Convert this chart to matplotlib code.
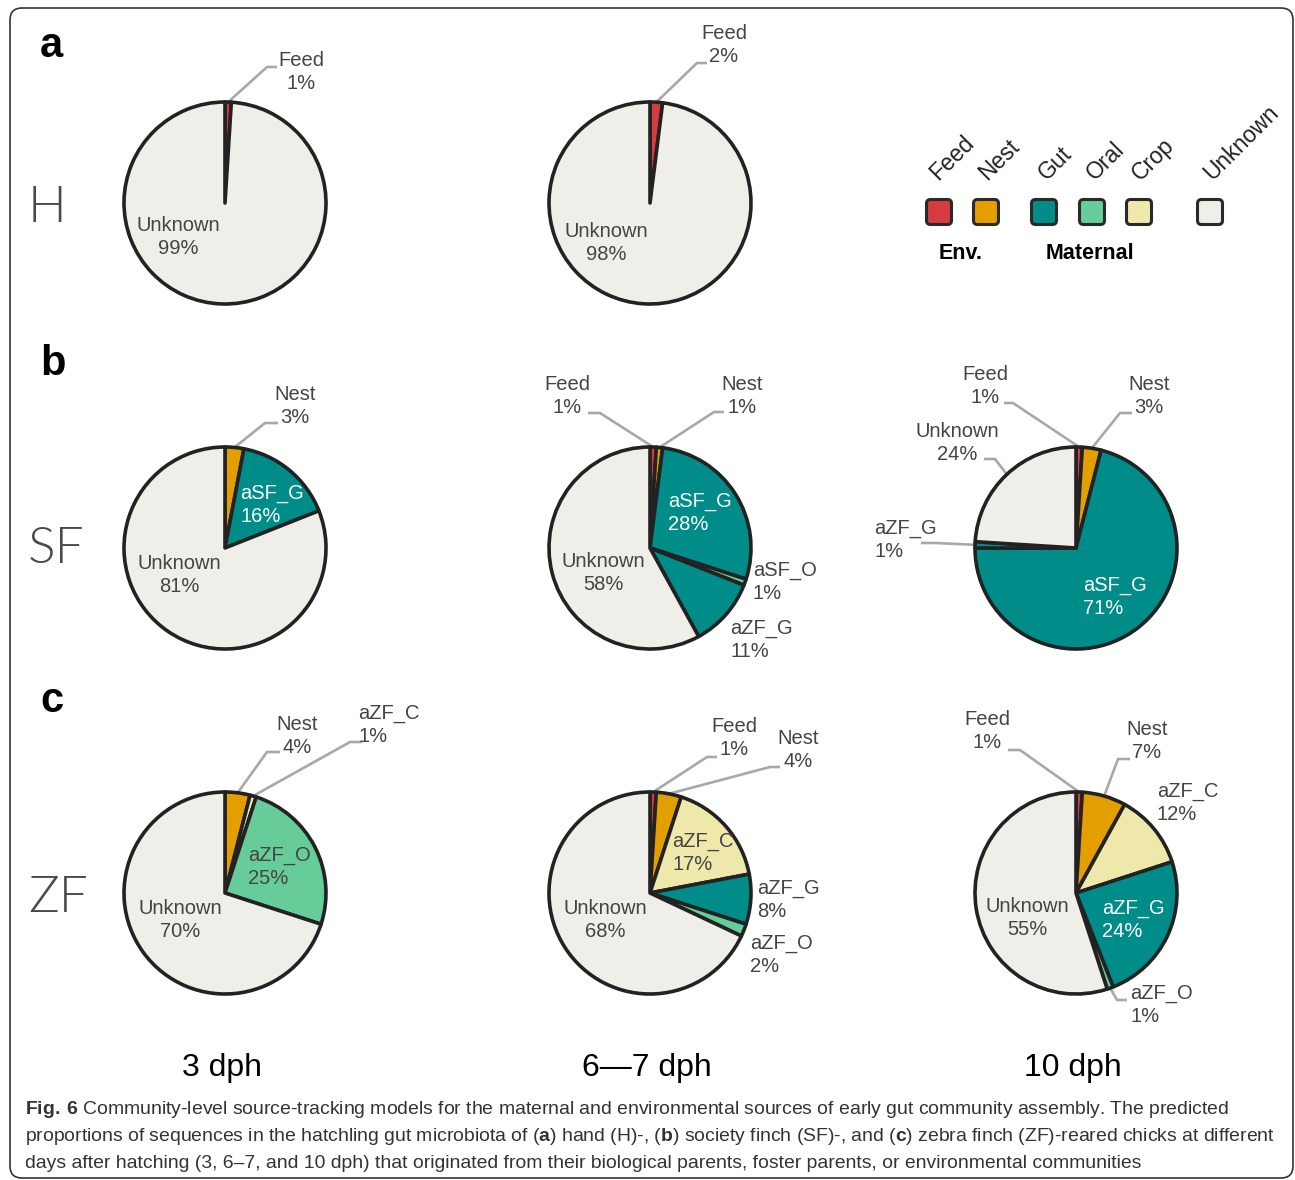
import math
import matplotlib
matplotlib.use('Agg')
import matplotlib.pyplot as plt
from matplotlib.patches import FancyBboxPatch
from matplotlib import font_manager

W, H = 1295, 1180

# colours of the source categories
src_colors = {
    'Feed': '#d63b3f',
    'Nest': '#e39e00',
    'Gut': '#008c88',
    'Oral': '#66cc99',
    'Crop': '#eee8aa',
    'Unknown': '#f0eee8',
}

# ---- data: proportions (%) per source, clockwise from 12 o'clock ----
# a: hand-reared (H)
h3_labels = ['Feed', 'Unknown']
h3_values = [1, 99]
h67_labels = ['Feed', 'Unknown']
h67_values = [2, 98]
# b: society finch reared (SF)
sf3_labels = ['Nest', 'aSF_G', 'Unknown']
sf3_values = [3, 16, 81]
sf67_labels = ['Feed', 'Nest', 'aSF_G', 'aSF_O', 'aZF_G', 'Unknown']
sf67_values = [1, 1, 28, 1, 11, 58]
sf10_labels = ['Feed', 'Nest', 'aSF_G', 'aZF_G', 'Unknown']
sf10_values = [1, 3, 71, 1, 24]
# c: zebra finch reared (ZF)
zf3_labels = ['Nest', 'aZF_C', 'aZF_O', 'Unknown']
zf3_values = [4, 1, 25, 70]
zf67_labels = ['Feed', 'Nest', 'aZF_C', 'aZF_G', 'aZF_O', 'Unknown']
zf67_values = [1, 4, 17, 8, 2, 68]
zf10_labels = ['Feed', 'Nest', 'aZF_C', 'aZF_G', 'aZF_O', 'Unknown']
zf10_values = [1, 7, 12, 24, 1, 55]

groups = ['H', 'SF', 'ZF']
panel_letters = ['a', 'b', 'c']
ages = ['3 dph', '6\u20147 dph', '10 dph']
legend_names = ['Feed', 'Nest', 'Gut', 'Oral', 'Crop', 'Unknown']

caption = [
    r'$\mathbf{Fig.\,6}$ Community-level source-tracking models for the maternal and environmental sources of early gut community assembly. The predicted',
    r'proportions of sequences in the hatchling gut microbiota of ($\mathbf{a}$) hand (H)-, ($\mathbf{b}$) society finch (SF)-, and ($\mathbf{c}$) zebra finch (ZF)-reared chicks at different',
    'days after hatching (3, 6\u20137, and 10 dph) that originated from their biological parents, foster parents, or environmental communities',
]

# ---- layout (pixels, origin top-left) ----
col_x = [225, 650, 1076]
row_y = [203, 548, 893]
R = 101

pies = [
    (0, 0, h3_labels, h3_values),
    (0, 1, h67_labels, h67_values),
    (1, 0, sf3_labels, sf3_values),
    (1, 1, sf67_labels, sf67_values),
    (1, 2, sf10_labels, sf10_values),
    (2, 0, zf3_labels, zf3_values),
    (2, 1, zf67_labels, zf67_values),
    (2, 2, zf10_labels, zf10_values),
]

# label placement: x, y, alignment, leader (elbow x, elbow y, stub end x)
place = {
    (0, 0): {'Feed': (301, 72, 'center', (267, 67, 277)),
             'Unknown': (178, 237, 'center', None)},
    (0, 1): {'Feed': (724, 45, 'center', (697, 63, 707)),
             'Unknown': (606, 243, 'center', None)},
    (1, 0): {'Nest': (295, 406, 'center', (265, 423, 278)),
             'aSF_G': (240, 505, 'left', None),
             'Unknown': (179, 575, 'center', None)},
    (1, 1): {'Feed': (567, 396, 'center', (600, 413, 588)),
             'Nest': (742, 396, 'center', (714, 412, 724)),
             'aSF_G': (668, 513, 'left', None),
             'aSF_O': (753, 582, 'left', None),
             'aZF_G': (730, 640, 'left', None),
             'Unknown': (603, 573, 'center', None)},
    (1, 2): {'Feed': (985, 386, 'center', (1013, 403, 1004)),
             'Nest': (1149, 396, 'center', (1120, 413, 1132)),
             'aSF_G': (1083, 597, 'left', None),
             'aZF_G': (874, 540, 'left', (935, 543, 921)),
             'Unknown': (957, 443, 'center', (995, 459, 984))},
    (2, 0): {'Nest': (297, 736, 'center', (267, 752, 280)),
             'aZF_C': (358, 725, 'left', (350, 742, 362)),
             'aZF_O': (248, 867, 'left', None),
             'Unknown': (180, 920, 'center', None)},
    (2, 1): {'Feed': (734, 738, 'center', (707, 757, 717)),
             'Nest': (798, 750, 'center', (770, 767, 780)),
             'aZF_C': (672, 853, 'left', None),
             'aZF_G': (757, 900, 'left', None),
             'aZF_O': (750, 955, 'left', None),
             'Unknown': (605, 920, 'center', None)},
    (2, 2): {'Feed': (987, 731, 'center', (1020, 750, 1008)),
             'Nest': (1147, 741, 'center', (1118, 759, 1130)),
             'aZF_C': (1157, 803, 'left', None),
             'aZF_G': (1102, 920, 'left', None),
             'aZF_O': (1130, 1005, 'left', (1117, 1000, 1127)),
             'Unknown': (1027, 918, 'center', None)},
}

legend_x = [939, 986, 1044, 1092, 1139, 1210]
legend_y = 212
legend_text_x = [938, 987, 1047, 1095, 1140, 1212]


def slice_color(name):
    if name in src_colors:
        return src_colors[name]
    return {'G': src_colors['Gut'], 'O': src_colors['Oral'],
            'C': src_colors['Crop']}[name[-1]]


def Y(py):
    return H - py


names = {f.name for f in font_manager.fontManager.ttflist}
sans = 'Liberation Sans' if 'Liberation Sans' in names else 'DejaVu Sans'
narrow = 'Liberation Sans Narrow' if 'Liberation Sans Narrow' in names else sans
plt.rcParams['font.family'] = [sans, 'DejaVu Sans']
plt.rcParams['mathtext.fontset'] = 'custom'
plt.rcParams['mathtext.rm'] = narrow
plt.rcParams['mathtext.bf'] = narrow + ':bold'

fig = plt.figure(figsize=(W / 100, H / 100), dpi=100)
ax = fig.add_axes([0, 0, 1, 1])

txt_col = '#444444'
edge_col = '#222222'
lead_col = '#a8a8a8'

for r, c, labels, values in pies:
    cx, cy = col_x[c], Y(row_y[r])
    wedges, _ = ax.pie(values, colors=[slice_color(n) for n in labels],
                       startangle=90, counterclock=False,
                       center=(cx, cy), radius=R,
                       wedgeprops=dict(edgecolor=edge_col, linewidth=2.6,
                                       joinstyle='round'))
    spec = place[(r, c)]
    for w, name, val in zip(wedges, labels, values):
        tx, ty, ha, lead = spec[name]
        inside = ((tx - cx) ** 2 + (Y(ty) - cy) ** 2) ** 0.5 < R
        col = 'white' if inside and name.endswith('_G') else txt_col
        ax.text(tx, Y(ty), f'{name}\n{val}%', ha=ha, va='center',
                multialignment=ha, fontsize=14.5, color=col,
                linespacing=1.32, zorder=5)
        if lead is not None:
            # leader starts on the rim at the middle of the wedge
            a = math.radians((w.theta1 + w.theta2) / 2)
            px, py = cx + R * math.cos(a), cy + R * math.sin(a)
            ex, ey, sx = lead
            ax.plot([px, ex, sx], [py, Y(ey), Y(ey)], color=lead_col,
                    lw=1.9, solid_capstyle='butt', zorder=0.5)

ax.set_aspect('auto')
ax.set_xlim(0, W)
ax.set_ylim(0, H)
ax.axis('off')

# panel letters and group names
for letter, by in zip(panel_letters, [57, 375, 712]):
    ax.text(40, Y(by), letter, fontsize=30, fontweight='bold',
            color='black', va='baseline', ha='left')
for g, by in zip(groups, [222, 563, 912]):
    ax.text(28, Y(by), g, fontsize=37, color='#4a4a4a', va='baseline',
            ha='left', family=['Lato', sans], fontweight=300)

# ages along the bottom
for a, x in zip(ages, col_x):
    ax.text(x - 3, Y(1076), a, fontsize=23, color='black', ha='center',
            va='baseline', family=[narrow, sans])

# legend
for name, lx, tx in zip(legend_names, legend_x, legend_text_x):
    ax.add_patch(FancyBboxPatch((lx - 12.5, Y(legend_y) - 12.5), 25, 25,
                                boxstyle='round,pad=0,rounding_size=4',
                                facecolor=src_colors[name], edgecolor='#2a2a2a',
                                linewidth=2.2, zorder=3))
    ax.text(tx, Y(181), name, rotation=45, rotation_mode='anchor',
            ha='left', va='baseline', fontsize=16.5, color='#222222')
ax.text(961, Y(259), 'Env.', fontsize=15.5, fontweight='bold', ha='center',
        va='baseline', color='black')
ax.text(1090, Y(259), 'Maternal', fontsize=15.5, fontweight='bold',
        ha='center', va='baseline', color='black')

# caption, sized so the longest line ends where the frame text does
cap_texts = []
for line, by in zip(caption, [1114, 1141, 1168]):
    cap_texts.append(ax.text(25, Y(by), line, fontsize=12, color='#333333',
                             ha='left', va='baseline', family=[narrow, sans]))
fig.canvas.draw()
rend = fig.canvas.get_renderer()
wid = max(t.get_window_extent(rend).width for t in cap_texts)
fs = 12 * 1250 / wid
for t in cap_texts:
    t.set_fontsize(fs)

# outer rounded frame
ax.add_patch(FancyBboxPatch((10, Y(1178)), 1283, 1170,
                            boxstyle='round,pad=0,rounding_size=12',
                            facecolor='none', edgecolor='#333333',
                            linewidth=1.2, zorder=6))

fig.savefig('out.png', dpi=100)
